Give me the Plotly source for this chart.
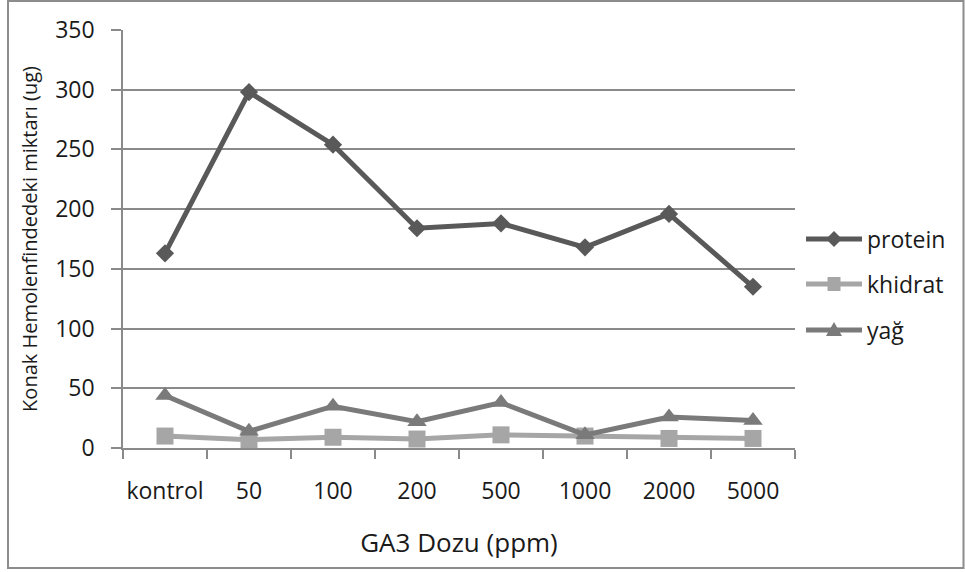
import plotly.graph_objects as go

# GA3 doses (x categories)
doses = ["kontrol", "50", "100", "200", "500", "1000", "2000", "5000"]

# Amounts in host haemolymph (ug)
protein = [163, 298, 254, 184, 188, 168, 196, 135]
khidrat = [10, 7, 9, 7.5, 11, 10, 8, 8]
yag = [44, 14, 35, 22, 38, 11, 26, 23]

y_ticks = [0, 50, 100, 150, 200, 250, 300, 350]

series_names = ["protein", "khidrat", "yağ"]
series_colors = ["#595959", "#a6a6a6", "#7a7a7a"]
series_symbols = ["diamond", "square", "triangle-up"]
series_sizes = [14, 17, 17]

FONT = "Open Sans"
TEXT = "#1a1a1a"
GRID = "#8a8a8a"

fig = go.Figure()
for name, vals, col, sym, sz in zip(series_names, [protein, khidrat, yag],
                                    series_colors, series_symbols, series_sizes):
    fig.add_trace(go.Scatter(
        x=doses, y=vals, name=name, mode="lines+markers",
        line=dict(color=col, width=5),
        marker=dict(symbol=sym, size=sz, color=col),
    ))

L, R, T, B = 123, 170, 30, 124
W, H = 965, 572
pw = W - L - R
ph = H - T - B


def px_x(px):
    return (px - L) / pw


def px_y(py):
    return (H - B - py) / ph


def path(points):
    return "M " + " L ".join(f"{px_x(a):.5f},{px_y(b):.5f}" for a, b in points) + " Z"


# Legend on the right: long line sample with centred marker, then the label
shapes = [dict(
    type="rect", xref="paper", yref="paper",
    x0=px_x(8), x1=px_x(963.5), y0=px_y(568), y1=px_y(1),
    line=dict(color="#8c8c8c", width=2), fillcolor="rgba(0,0,0,0)",
    layer="below",
)]
annotations = []
legend_rows = [239, 284, 330]
x0, x1 = 806, 862
cx = (x0 + x1) / 2
for name, col, sym, yy in zip(series_names, series_colors, series_symbols, legend_rows):
    shapes.append(dict(type="line", xref="paper", yref="paper",
                       x0=px_x(x0), x1=px_x(x1), y0=px_y(yy), y1=px_y(yy),
                       line=dict(color=col, width=5)))
    if sym == "diamond":
        pts = [(cx, yy - 8), (cx + 8, yy), (cx, yy + 8), (cx - 8, yy)]
    elif sym == "square":
        pts = [(cx - 6.5, yy - 7), (cx + 6.5, yy - 7), (cx + 6.5, yy + 7), (cx - 6.5, yy + 7)]
    else:
        pts = [(cx, yy - 8), (cx + 8, yy + 6), (cx - 8, yy + 6)]
    shapes.append(dict(type="path", xref="paper", yref="paper", path=path(pts),
                       fillcolor=col, line=dict(color=col, width=0)))
    annotations.append(dict(
        text=name, xref="paper", yref="paper", x=px_x(865), y=px_y(yy),
        xanchor="left", yanchor="middle", showarrow=False,
        font=dict(family=FONT, size=23, color=TEXT),
    ))

fig.update_layout(
    width=W, height=H,
    margin=dict(l=L, r=R, t=T, b=B),
    paper_bgcolor="white", plot_bgcolor="white",
    font=dict(family=FONT, size=23, color=TEXT),
    showlegend=False,
    xaxis=dict(
        type="category", tickson="boundaries", tickangle=0, automargin=False,
        showgrid=False, showline=True, linecolor=GRID, linewidth=1.5,
        ticks="outside", ticklen=9, tickcolor=GRID, tickwidth=1.5,
        tickfont=dict(family=FONT, size=23, color=TEXT),
        ticklabelstandoff=22,
        title=dict(text="GA3 Dozu (ppm)", standoff=28,
                   font=dict(family=FONT, size=26, color=TEXT)),
        range=[-0.5, 7.5],
    ),
    yaxis=dict(
        range=[0, 350], tickvals=y_ticks, automargin=False,
        showgrid=True, gridcolor=GRID, gridwidth=1.5,
        showline=True, linecolor=GRID, linewidth=1.5,
        ticks="outside", ticklen=10, tickcolor=GRID, tickwidth=1.5,
        zeroline=False,
        tickfont=dict(family=FONT, size=23, color=TEXT),
        ticklabelstandoff=12,
        title=dict(text="Konak Hemolenfindedeki miktarı (ug)", standoff=12,
                   font=dict(family=FONT, size=20, color=TEXT)),
    ),
    shapes=shapes,
    annotations=annotations,
)

fig.write_html("out.html")
